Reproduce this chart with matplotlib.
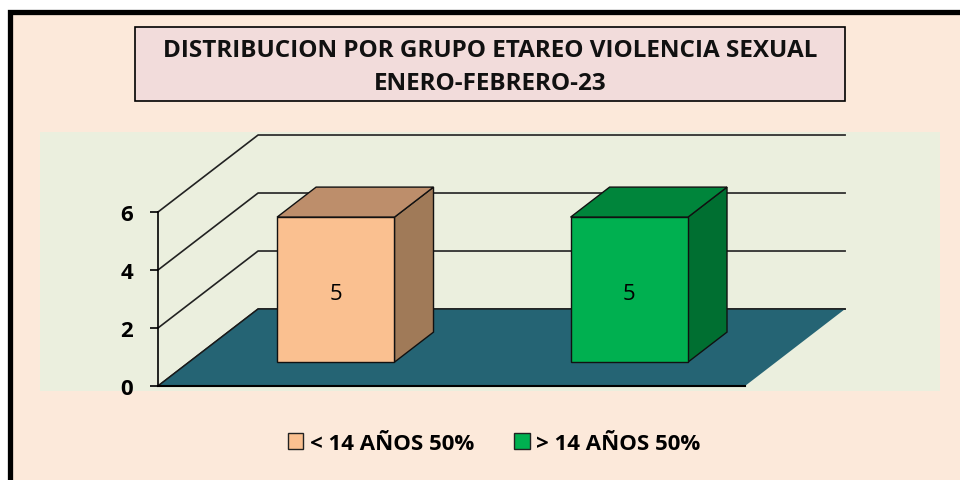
import matplotlib.pyplot as plt
import numpy as np
from matplotlib.patches import Polygon, Rectangle, Patch

# --- data ---
categories = ['< 14 AÑOS 50%', '> 14 AÑOS 50%']
values = [5, 5]
y_ticks = [0, 2, 4, 6]
title_lines = ['DISTRIBUCION POR GRUPO ETAREO VIOLENCIA SEXUAL', 'ENERO-FEBRERO-23']

front_colors = ['#FAC090', '#00B050']
top_colors = ['#BD8E6B', '#00853B']
side_colors = ['#A07A58', '#006F31']

# pseudo-3d depth of the floor, in data units (x: category, y: value)
DX, DY = 0.341, 2.655
BAR_W = 0.4
F0, F1 = 0.31, 0.70  # bar depth range as fraction of floor depth

W, H = 960, 481
fig = plt.figure(figsize=(W / 100, H / 100), dpi=100)
fig.patch.set_facecolor('white')
plt.rcParams['font.family'] = ['Open Sans', 'DejaVu Sans']

# outer frame
fig.patches.append(Rectangle((9.5 / W, 0 - 0.05), 1.1, 1 - 12.5 / H + 0.05,
                             transform=fig.transFigure, facecolor='#FCE9DA',
                             edgecolor='black', linewidth=3.8, zorder=0))

# title box
fig.patches.append(Rectangle((135 / W, 1 - 102 / H), 710 / W, 74 / H,
                             transform=fig.transFigure, facecolor='#F2DCDB',
                             edgecolor='black', linewidth=1.2, zorder=1))
fig.text(490 / W, 1 - 51 / H, title_lines[0], ha='center', va='center',
         fontsize=17.5, fontweight='bold', color='#111111')
fig.text(490 / W, 1 - 84 / H, title_lines[1], ha='center', va='center',
         fontsize=17.5, fontweight='bold', color='#111111')

# plot area
ax = fig.add_axes([40 / W, 1 - 392 / H, 900 / W, 259 / H])
ax.set_zorder(3)
ax.set_facecolor('#EBEFDE')
cat_w = 293.5
ax.set_xlim(-118 / cat_w, 782 / cat_w)
ax.set_ylim(-5 / 29, 254 / 29)

# back wall gridlines + diagonals
back_right = len(categories) + DX
for v in y_ticks:
    ax.plot([0, DX, back_right], [v, v + DY, v + DY], color='#222222',
            linewidth=1.2, zorder=1)

# floor
floor = Polygon([(0, 0), (len(categories), 0), (back_right, DY), (DX, DY)],
                closed=True, facecolor='#256474', edgecolor='none', zorder=2)
ax.add_patch(floor)
ax.plot([0, DX, back_right], [0, DY, DY], color='#1a1a1a', linewidth=1.0, zorder=2)

# bars
ddx = (F1 - F0) * DX
ddy = (F1 - F0) * DY
for i, val in enumerate(values):
    c = i + 0.5 + F0 * DX
    xl, xr = c - BAR_W / 2, c + BAR_W / 2
    y0 = F0 * DY
    y1 = y0 + val
    side = Polygon([(xr, y0), (xr, y1), (xr + ddx, y1 + ddy), (xr + ddx, y0 + ddy)],
                   closed=True, facecolor=side_colors[i], edgecolor='#111111',
                   linewidth=1.0, zorder=3)
    top = Polygon([(xl, y1), (xr, y1), (xr + ddx, y1 + ddy), (xl + ddx, y1 + ddy)],
                  closed=True, facecolor=top_colors[i], edgecolor='#111111',
                  linewidth=1.0, zorder=3)
    front = Rectangle((xl, y0), BAR_W, val, facecolor=front_colors[i],
                      edgecolor='#111111', linewidth=1.0, zorder=4)
    for p in (side, top, front):
        ax.add_patch(p)
    ax.text(c, y0 + val / 2 - 0.15, f'{val}', ha='center', va='center',
            fontsize=16, color='black', zorder=5)

# axes styling
for s in ('top', 'right'):
    ax.spines[s].set_visible(False)
ax.spines['left'].set_position(('data', 0))
ax.spines['left'].set_bounds(0, 6)
ax.spines['bottom'].set_position(('data', 0))
ax.spines['bottom'].set_bounds(0, len(categories))
ax.spines['left'].set_linewidth(1.2)
ax.spines['bottom'].set_linewidth(1.5)
ax.spines['bottom'].set_zorder(6)
ax.set_xticks([])
ax.set_yticks(y_ticks)
ax.set_yticklabels([str(t) for t in y_ticks], fontsize=16, fontweight='bold')
ax.tick_params(axis='y', direction='out', length=6, width=1.2, pad=12)

# legend
handles = [Patch(facecolor=front_colors[i], edgecolor='#222222', label=categories[i])
           for i in range(len(categories))]
leg = fig.legend(handles=handles, loc='center', bbox_to_anchor=(494 / W, 1 - 444 / H),
                 ncol=2, frameon=False, handlelength=0.7, handleheight=0.7,
                 handletextpad=0.3, columnspacing=1.8,
                 prop={'size': 16, 'weight': 'bold'})

fig.savefig('out.png', dpi=100)
